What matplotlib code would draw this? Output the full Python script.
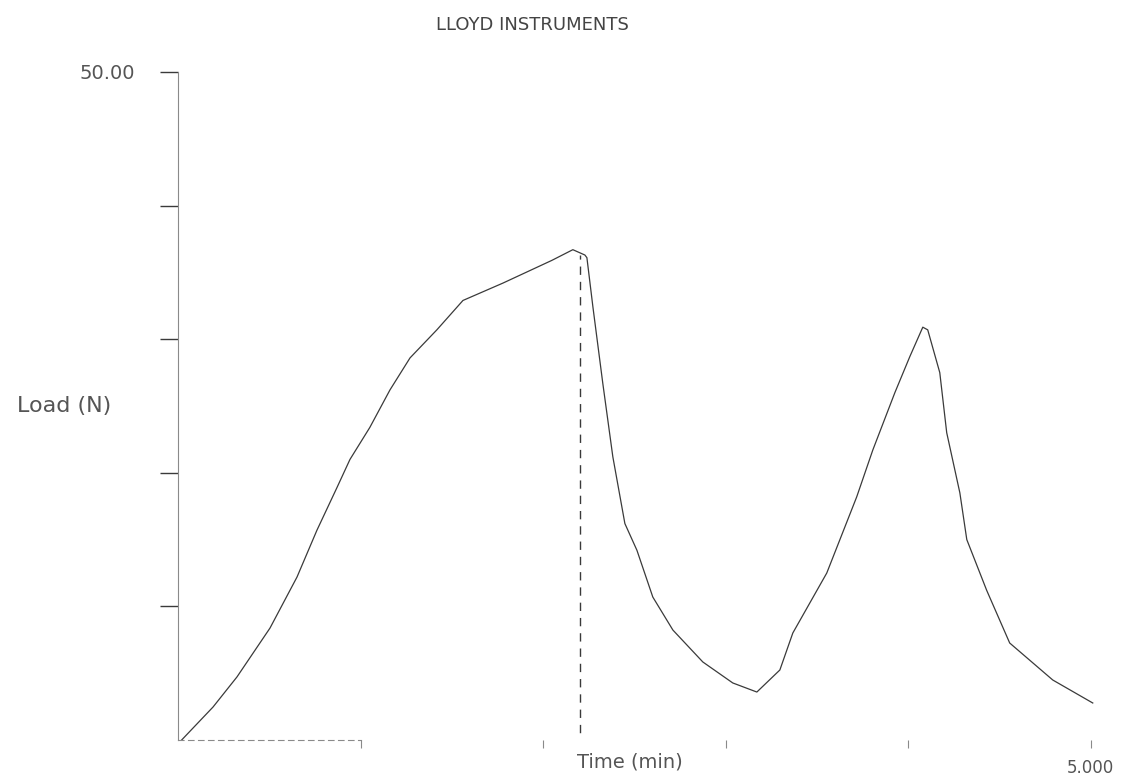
import numpy as np
import matplotlib.pyplot as plt

# Load trace from the tensile tester, time in minutes, load in newtons
time_min = [0.02, 0.192, 0.323, 0.504, 0.652, 0.761, 0.871, 0.942, 1.051, 1.161,
            1.271, 1.418, 1.561, 1.780, 2.048, 2.163, 2.229, 2.240, 2.273, 2.327,
            2.382, 2.448, 2.514, 2.601, 2.711, 2.875, 3.039, 3.171, 3.297, 3.368,
            3.554, 3.718, 3.806, 3.927, 4.009, 4.080, 4.107, 4.173, 4.211, 4.283,
            4.321, 4.430, 4.556, 4.792, 5.011]
load_n = [0.0, 2.47, 4.72, 8.38, 12.2, 15.7, 18.9, 21.0, 23.4, 26.2,
          28.6, 30.7, 32.9, 34.2, 35.9, 36.7, 36.3, 36.1, 32.4, 26.7,
          21.2, 16.2, 14.2, 10.7, 8.23, 5.84, 4.27, 3.59, 5.24, 8.01,
          12.5, 18.2, 21.7, 26.0, 28.7, 30.9, 30.7, 27.5, 23.0, 18.5,
          15.0, 11.2, 7.26, 4.49, 2.77]

# marker at the first peak
peak_time = 2.20
peak_load = 36.3

y_ticks = [10, 20, 30, 40, 50]
y_tick_labels = ['', '', '', '', '50.00']
x_ticks = [1, 2, 3, 4, 5]
x_tick_labels = ['', '', '', '', '5.000']

ink = '#3a3a3a'
faint = '#8a8a8a'

fig = plt.figure(figsize=(11.31, 7.82), dpi=100)
ax = fig.add_axes([178 / 1131, 42 / 782, 931 / 1131, 668 / 782])

ax.plot(time_min, load_n, color=ink, lw=0.9)
ax.vlines(peak_time, -0.6, peak_load, colors=ink, lw=1.0, linestyles=(0, (6, 5)))

ax.set_xlim(0, 5.1)
ax.set_ylim(0, 50)

for side in ['top', 'right']:
    ax.spines[side].set_visible(False)
ax.spines['left'].set_color(faint)
ax.spines['left'].set_linewidth(0.8)
ax.spines['bottom'].set_color(faint)
ax.spines['bottom'].set_linewidth(0.8)
ax.spines['bottom'].set_linestyle((0, (5, 4)))
ax.spines['bottom'].set_bounds(0, 1)

ax.set_yticks(y_ticks)
ax.set_yticklabels(y_tick_labels, color='#555555', fontsize=14)
ax.tick_params(axis='y', direction='out', length=13, width=1.0, color=ink, pad=18)
ax.set_xticks(x_ticks)
ax.set_xticklabels(x_tick_labels, color='#555555', fontsize=12)
ax.tick_params(axis='x', direction='out', length=6, width=0.8, color=faint, pad=8)

ax.set_xlabel('Time (min)', color='#555555', fontsize=14)
ax.xaxis.set_label_coords(0.485, -0.018)
ax.xaxis.label.set_va('top')
ax.set_ylabel('Load (N)', color='#555555', fontsize=16, rotation=0, ha='right', va='center')
ax.yaxis.set_label_coords(-0.072, 0.5)

fig.text(532 / 1131, 1 - 25 / 782, 'LLOYD INSTRUMENTS', color='#444444',
         fontsize=13, ha='center', va='center')

fig.savefig('out.png', dpi=100, facecolor='white')
